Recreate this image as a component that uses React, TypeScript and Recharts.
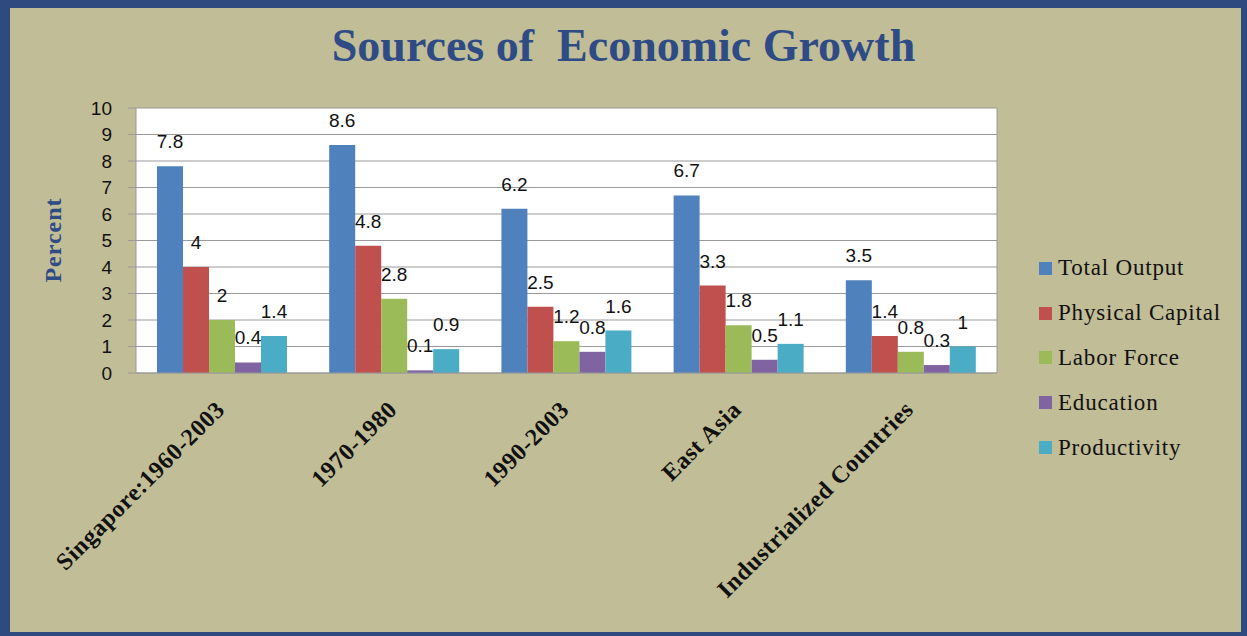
import { BarChart, Bar, XAxis, YAxis, CartesianGrid, LabelList } from "recharts";

const categories = ["Singapore:1960-2003", "1970-1980", "1990-2003", "East Asia", "Industrialized Countries"];
const totalOutput = [7.8, 8.6, 6.2, 6.7, 3.5];
const physicalCapital = [4, 4.8, 2.5, 3.3, 1.4];
const laborForce = [2, 2.8, 1.2, 1.8, 0.8];
const education = [0.4, 0.1, 0.8, 0.5, 0.3];
const productivity = [1.4, 0.9, 1.6, 1.1, 1];
const yTicks = [0, 1, 2, 3, 4, 5, 6, 7, 8, 9, 10];

const series = [
  { key: "total", name: "Total Output", color: "#4F81BD", values: totalOutput },
  { key: "capital", name: "Physical Capital", color: "#C0504D", values: physicalCapital },
  { key: "labor", name: "Labor Force", color: "#9BBB59", values: laborForce },
  { key: "edu", name: "Education", color: "#8064A2", values: education },
  { key: "prod", name: "Productivity", color: "#4BACC6", values: productivity },
];

const data = categories.map((name, i) => {
  const row: Record<string, string | number> = { name };
  series.forEach((s) => (row[s.key] = s.values[i]));
  return row;
});

const serif = "'Liberation Serif', 'Times New Roman', serif";
const sans = "'Liberation Sans', Arial, sans-serif";

const CategoryTick = ({ x, y, payload }: any) => {
  const tx = x + 4;
  const ty = y + 38;
  return (
    <text
      x={tx}
      y={ty}
      transform={`rotate(-45, ${tx}, ${ty})`}
      textAnchor="end"
      fontFamily={serif}
      fontWeight="bold"
      fontSize={24}
      letterSpacing={0.6}
      fill="#111"
    >
      {payload.value}
    </text>
  );
};

// legend sits in the tan margin to the right of the plot
const LegendBox = () => (
  <div
    style={{
      position: "absolute",
      left: 1039,
      top: 246,
      fontFamily: serif,
      fontSize: 23,
      letterSpacing: 0.8,
      color: "#111",
    }}
  >
    {series.map((s) => (
      <div key={s.key} style={{ display: "flex", alignItems: "center", height: 44.8, whiteSpace: "nowrap" }}>
        <span style={{ width: 13, height: 13, background: s.color, marginRight: 6, display: "inline-block" }} />
        {s.name}
      </div>
    ))}
  </div>
);

export default function App() {
  return (
    <div style={{ position: "absolute", left: 0, top: 0, width: 1247, height: 636, background: "#2E4A7E" }}>
      <div style={{ position: "absolute", left: 10, top: 8, width: 1231, height: 624, background: "#C1BD97" }} />
      <div
        style={{
          position: "absolute",
          left: 0,
          width: 1247,
          top: 23,
          textAlign: "center",
          fontFamily: serif,
          fontWeight: "bold",
          fontSize: 46,
          lineHeight: "46px",
          color: "#2E4B85",
          whiteSpace: "pre",
        }}
      >
        {"Sources of  Economic Growth"}
      </div>
      <div
        style={{
          position: "absolute",
          left: 53,
          top: 240,
          transform: "translate(-50%, -50%) rotate(-90deg)",
          fontFamily: serif,
          fontWeight: "bold",
          fontSize: 24,
          letterSpacing: 1,
          color: "#2E4B85",
          whiteSpace: "nowrap",
        }}
      >
        Percent
      </div>
      <div style={{ position: "absolute", left: 0, top: 0 }}>
        <BarChart
          width={1247}
          height={636}
          data={data}
          margin={{ top: 108, right: 250, bottom: 63, left: 56 }}
          barCategoryGap="12.2%"
          barGap={0}
        >
          <CartesianGrid fill="#fff" stroke="#9A9A9A" vertical={false} />
          <CartesianGrid stroke="#9A9A9A" horizontal={false} verticalPoints={[997]} />
          <XAxis
            dataKey="name"
            height={200}
            interval={0}
            tickLine={false}
            tickSize={0}
            tickMargin={0}
            axisLine={{ stroke: "#9A9A9A" }}
            tick={<CategoryTick />}
          />
          <YAxis
            width={80}
            domain={[0, 10]}
            ticks={yTicks}
            interval={0}
            tickSize={8}
            tickMargin={16}
            axisLine={{ stroke: "#9A9A9A" }}
            tickLine={{ stroke: "#9A9A9A" }}
            tick={{ fontFamily: sans, fontSize: 19, fill: "#111" }}
          />
          {series.map((s) => (
            <Bar key={s.key} dataKey={s.key} name={s.name} fill={s.color} isAnimationActive={false}>
              <LabelList dataKey={s.key} position="top" offset={18} fontFamily={sans} fontSize={19} fill="#111" />
            </Bar>
          ))}
        </BarChart>
      </div>
      <LegendBox />
    </div>
  );
}
